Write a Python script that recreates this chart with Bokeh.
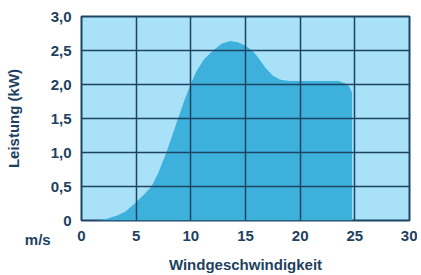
from bokeh.plotting import figure
from bokeh.models import ColumnDataSource, FixedTicker, Range1d
from bokeh.embed import file_html
from bokeh.resources import INLINE

# Power curve: wind speed (m/s) -> power (kW)
wind = [0, 1.3, 2.0, 3.2, 4.0, 5.0, 5.7, 6.4, 7.0, 7.76, 8.3, 8.83, 9.4, 9.97, 10.5, 11.2, 12.05,
        12.8, 13.6, 14.3, 15.0, 15.6, 16.0, 16.8, 17.5, 18.2, 19.0, 21.0, 23.5, 24.1, 24.5, 24.75, 24.75]
power = [0, 0, 0.01, 0.07, 0.13, 0.27, 0.38, 0.5, 0.69, 1.0, 1.25, 1.5, 1.76, 2.0, 2.19, 2.37, 2.5,
         2.6, 2.64, 2.62, 2.57, 2.5, 2.43, 2.25, 2.13, 2.07, 2.05, 2.05, 2.05, 2.02, 1.97, 1.88, 0]
x_ticks = [0, 5, 10, 15, 20, 25, 30]
y_ticks = [0, 0.5, 1.0, 1.5, 2.0, 2.5, 3.0]
y_tick_labels = ["0", "0,5", "1,0", "1,5", "2,0", "2,5", "3,0"]
unit_label = "m/s"

TEXT = "#1e4160"
GRID = "#1d4563"
FONT = "Liberation Sans"

p = figure(width=417, height=276, output_backend="svg", toolbar_location=None,
           x_range=Range1d(0, 30), y_range=Range1d(0, 3),
           min_border_left=81, min_border_right=8, min_border_top=16, min_border_bottom=56)
p.background_fill_color = "#a9e1f9"
p.border_fill_color = "white"
p.outline_line_color = GRID
p.outline_line_width = 2

src = ColumnDataSource(dict(x=wind, y=power))
p.varea(x="x", y1=0, y2="y", source=src, fill_color="#3db0db")

for g in (p.xgrid, p.ygrid):
    g.level = "overlay"
    g.grid_line_color = GRID
    g.grid_line_width = 1.5
p.xgrid.ticker = FixedTicker(ticks=x_ticks)
p.ygrid.ticker = FixedTicker(ticks=y_ticks)

p.xaxis.ticker = FixedTicker(ticks=x_ticks)
p.yaxis.ticker = FixedTicker(ticks=y_ticks)
overrides = {t: l for t, l in zip(y_ticks, y_tick_labels)}
# unit text sits under the "0" tick label, left of the x axis origin
overrides[0] = "\n0\n" + unit_label + "\u00a0" * 5
p.yaxis.major_label_overrides = overrides

for ax in (p.xaxis, p.yaxis):
    ax.axis_line_color = None
    ax.major_tick_line_color = None
    ax.minor_tick_line_color = None
    ax.major_tick_out = 0
    ax.major_tick_in = 0
    ax.minor_tick_out = 0
    ax.minor_tick_in = 0
    ax.major_label_text_font = FONT
    ax.major_label_text_font_style = "bold"
    ax.major_label_text_font_size = "15px"
    ax.major_label_text_color = TEXT
    ax.axis_label_text_font = FONT
    ax.axis_label_text_font_style = "bold"
    ax.axis_label_text_font_size = "15px"
    ax.axis_label_text_color = TEXT

p.yaxis.major_label_text_line_height = 1.1
p.xaxis.axis_label = "Windgeschwindigkeit"
p.yaxis.axis_label = "Leistung (kW)"
p.xaxis.major_label_standoff = 10
p.yaxis.major_label_standoff = 10
p.xaxis.axis_label_standoff = 12
p.yaxis.axis_label_standoff = 0

open("out.html", "w").write(file_html(p, INLINE))
